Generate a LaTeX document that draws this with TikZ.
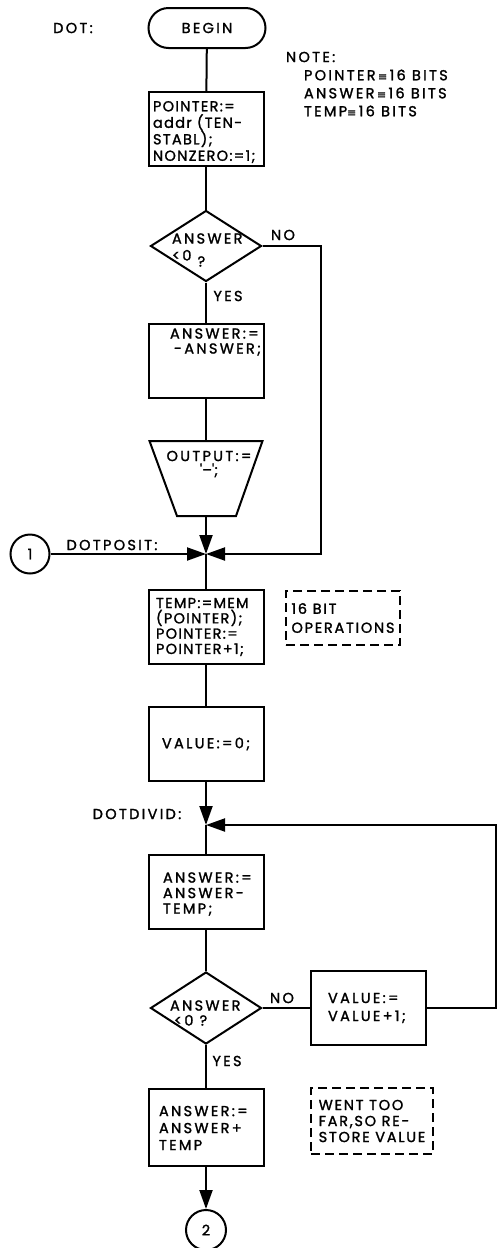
\documentclass[tikz,border=0pt]{standalone}
\usepackage{fontspec}
\setmainfont[LetterSpace=16,FakeBold=1.5]{Poppins}
\newfontfamily\tight[LetterSpace=9,FakeBold=1.5]{Poppins}
\newfontfamily\midsp[LetterSpace=12,FakeBold=1.5]{Poppins}
\newfontfamily\symf[FakeBold=1]{DejaVu Sans}
\usetikzlibrary{arrows.meta,shapes.geometric}
\begin{document}
\begin{tikzpicture}[x=1pt,y=-1pt,line width=2pt,
  box/.style={draw,rectangle,minimum width=115pt,minimum height=74pt,inner sep=0pt},
  term/.style={draw,rectangle,rounded corners=20pt,minimum width=117pt,minimum height=40pt,inner sep=0pt,font=\fontsize{14.5}{16}\selectfont},
  dec/.style={draw,diamond,minimum width=111pt,minimum height=71pt,inner sep=0pt},
  conn/.style={draw,circle,minimum size=39pt,inner sep=0pt,font=\fontsize{14.5}{16}\selectfont},
  notebox/.style={draw,rectangle,line width=1.5pt,dash pattern=on 9pt off 5pt,inner sep=0pt,align=left,font=\fontsize{14.5}{#1}\selectfont\midsp},
  notebox/.default=17,
  txt/.style={inner sep=0pt,align=left,font=\fontsize{14.5}{#1}\selectfont},
  txt/.default=16,
  lbl/.style={inner sep=0pt,font=\fontsize{14.5}{16}\selectfont},
  eqv/.style={},
  arr/.style={-{Triangle[length=19pt,width=13pt]}}]
\useasboundingbox (0,0) rectangle (496,1248);

% labels
\node[lbl] (dotlbl) at (73,28) {DOT:};
\node[lbl,anchor=west] (notelbl) at (285,57) {NOTE:};
\node[lbl,anchor=west] (note1) at (303,75) {POINTER\,{\symf\fontsize{11}{11}\selectfont≡}\,16 BITS};
\node[lbl,anchor=west] (note2) at (303,93) {ANSWER\,{\symf\fontsize{11}{11}\selectfont≡}\,16 BITS};
\node[lbl,anchor=west] (note3) at (303,111) {TEMP{\symf\fontsize{11}{11}\selectfont≡}\,16 BITS};

% shapes
\node[term] (begin) at (207,28) {BEGIN};
\node[box] (b1) at (206,129) {};
\node[txt=16.5,anchor=west] (t1) at (152,132) {\tight POINTER:=\\\tight addr (TEN-\\\tight STABL);\\\tight NONZERO:=1;};
\node[dec] (d1) at (206,246) {};
\node[txt=17,anchor=west] (td1) at (171,250) {ANSWER\\<0 \raisebox{-6pt}{?}};
\node[box] (b2) at (206,361) {};
\node[txt=15,anchor=west] (t2) at (169,342) {ANSWER:=\\\hspace{4pt}-ANSWER;};
\draw (149.5,441) -- (262.5,441) -- (236,516) -- (177,516) -- cycle;
\coordinate (outT) at (206,441);
\coordinate (outB) at (206,516);
\node[txt=14,align=center] (t3) at (209,464) {OUTPUT:=\\\textquotesingle--\textquotesingle;};
\coordinate (j1) at (206,554);
\node[conn] (c1) at (30,554) {1};
\node[lbl] (dotposit) at (112,545) {DOTPOSIT:};
\node[box] (b4) at (206,627) {};
\node[txt=15.3,anchor=west] (t4) at (155,627) {\tight TEMP:=MEM\\\tight (POINTER);\\\tight POINTER:=\\\tight POINTER+1;};
\node[notebox=19,minimum width=114pt,minimum height=54pt] (n1) at (343,618) {16 BIT\\OPERATIONS};
\node[box] (b5) at (206,744) {\fontsize{14.5}{16}\selectfont VALUE:=0;};
\coordinate (j2) at (206,825);
\node[lbl] (dotdivid) at (137,814) {DOTDIVID:};
\node[box] (b6) at (206,892) {};
\node[txt=15.5,anchor=west] (t6) at (162,894) {ANSWER:=\\ANSWER-\\TEMP;};
\node[dec,minimum height=72pt] (d2) at (206,1008) {};
\node[txt=15,anchor=west] (td2) at (169,1013) {ANSWER\\\hspace{4pt}<0 ?};
\node[box] (b7) at (368.5,1008) {};
\node[txt=18,anchor=west] (t7) at (327,1008) {VALUE:=\\VALUE+1;};
\node[box,minimum height=77pt] (b8) at (206,1127) {};
\node[txt=17,anchor=west] (t8) at (158,1128) {ANSWER:=\\ANSWER+\\TEMP};
\node[notebox=16,minimum width=122pt,minimum height=66pt] (n2) at (372,1121) {WENT TOO\\FAR,SO RE-\\STORE VALUE};
\node[conn,minimum size=40pt] (c2) at (206,1230) {2};

\node[lbl] (no1) at (283,235) {NO};
\node[lbl] (yes1) at (228,296) {YES};
\node[lbl] (no2) at (282,998) {NO};
\node[lbl] (yes2) at (227,1061) {YES};

% connectors
\coordinate (r1) at (321,246);
\coordinate (r2) at (321,554);
\coordinate (r3) at (496,1008);
\coordinate (r4) at (496,825);
\draw (begin) -- (b1);
\draw (b1) -- (d1);
\draw (d1) -- (b2);
\draw (b2) -- (outT);
\draw[arr] (outB) -- (j1);
\draw[arr] (c1) -- (j1);
\draw[arr] (d1.east) -- (r1) -- (r2) -- (j1);
\draw (j1) -- (b4);
\draw (b4) -- (b5);
\draw[arr] (b5) -- (j2);
\draw (j2) -- (b6);
\draw (b6) -- (d2);
\draw (d2.east) -- (b7.west);
\draw[arr] (b7.east) -- (r3) -- (r4) -- (j2);
\draw (d2) -- (b8);
\draw[arr] (b8) -- (c2);
\end{tikzpicture}
\end{document}
